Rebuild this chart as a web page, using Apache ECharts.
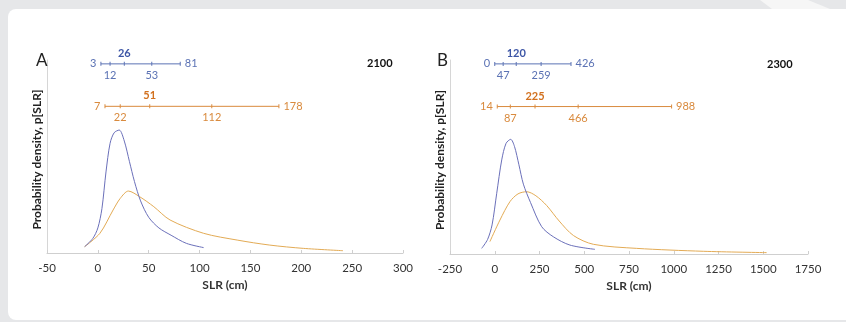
<!DOCTYPE html>
<html>
<head>
<meta charset="utf-8">
<script src="https://cdn.jsdelivr.net/npm/echarts@6/dist/echarts.min.js"></script>
<style>
  html, body { margin: 0; padding: 0; background: #e6e7e9; }
  #chart { width: 846px; height: 322px; }
</style>
</head>
<body>
<div id="chart"></div>
<script>
// density curves, panel A (2100)
const blueAX = [-13, -5, 0, 4, 8, 12, 16, 21, 26, 31, 36, 42, 50, 60, 72, 87, 104]
const blueAY = [3.3, 7.5, 13, 23, 42, 56.8, 62.3, 63.7, 58, 47.5, 37, 27, 18.5, 13, 9.2, 5, 2.8]
const orangeAX = [-13, 2, 15, 22, 30, 41, 55, 71, 104, 137, 169, 202, 241]
const orangeAY = [3.3, 10.2, 22.3, 28.3, 32.1, 29.2, 24, 17.1, 10.2, 6.7, 4.1, 2.4, 1.2]

// density curves, panel B (2300)
const blueBX = [-73, -40, -15, 11, 39, 63, 89, 110, 135, 160, 200, 262, 327, 420, 560]
const blueBY = [2.9, 7.5, 15, 31.3, 48.5, 57, 59.1, 55.5, 46, 36, 26.5, 14.1, 8.9, 4.6, 2.4]
const orangeBX = [-27, 29, 85, 130, 178, 230, 290, 360, 440, 551, 793, 1165, 1519]
const orangeBY = [6.4, 17.5, 27, 31, 32.1, 30, 25, 17, 9.5, 5, 2.9, 1.4, 0.7]

// whiskers: min, low, median, high, max
const blueRangeA = [3, 12, 26, 53, 81]
const orangeRangeA = [7, 22, 51, 112, 178]
const blueRangeB = [0, 47, 120, 259, 426]
const orangeRangeB = [14, 87, 225, 466, 988]

const BLUE = '#5b72b4'
const ORANGE = '#d98a3d'
const BLUE_CURVE = '#6b70ba'
const ORANGE_CURVE = '#e3ab55'
const FONT = 'Lato, "Open Sans", sans-serif'

const chart = echarts.init(document.getElementById('chart'))

function zip(xs, ys) {
  return xs.map((x, i) => [x, ys[i]])
}

function curve(xs, ys, color, idx) {
  return {
    type: 'line',
    xAxisIndex: idx,
    yAxisIndex: idx,
    data: zip(xs, ys),
    smooth: 0.3,
    symbol: 'none',
    lineStyle: { color, width: 1 },
    silent: true,
  }
}

const labelPos = ['left', 'bottom', 'top', 'bottom', 'right']

function whisker(vals, level, color, boldColor, idx) {
  return {
    type: 'line',
    xAxisIndex: idx,
    yAxisIndex: idx,
    symbol: 'rect',
    symbolSize: [1, 4],
    lineStyle: { color, width: 1 },
    itemStyle: { color },
    silent: true,
    data: vals.map((v, i) => ({
      value: [v, level],
      label: {
        show: true,
        position: labelPos[i],
        distance: i === 2 ? 3 : 4,
        formatter: String(v),
        fontFamily: FONT,
        fontSize: 11,
        fontWeight: i === 2 ? 'bold' : 'normal',
        color: i === 2 ? boldColor : color,
      },
    })),
  }
}

function xAxis(idx, min, max, interval) {
  return {
    type: 'value',
    gridIndex: idx,
    min,
    max,
    interval,
    name: 'SLR (cm)',
    nameLocation: 'middle',
    nameGap: 25,
    nameTextStyle: { fontFamily: FONT, fontSize: 12, fontWeight: 'bold', color: '#333' },
    axisLine: { onZero: false, lineStyle: { color: '#cfcfcf' } },
    axisTick: { show: true, inside: true, length: 3, lineStyle: { color: '#cfcfcf' } },
    axisLabel: { fontFamily: FONT, fontSize: 11.5, color: '#333', margin: 9, formatter: v => String(v) },
    splitLine: { show: false },
  }
}

function yAxis(idx) {
  return {
    type: 'value',
    gridIndex: idx,
    min: 0,
    max: 100,
    name: 'Probability density, p[SLR]',
    nameLocation: 'middle',
    nameGap: 4,
    nameTextStyle: { fontFamily: FONT, fontSize: 12, fontWeight: 'bold', color: '#222', padding: [0, 0, 0, -6] },
    axisLine: { show: true, onZero: false, lineStyle: { color: '#d6d6d6' } },
    axisTick: { show: false },
    axisLabel: { show: false },
    splitLine: { show: false },
  }
}

chart.setOption({
  animation: false,
  backgroundColor: '#e6e7e9',
  graphic: [
    {
      type: 'rect',
      shape: { x: 8, y: 9, width: 860, height: 311, r: 8 },
      style: { fill: '#ffffff' },
      z: -10,
    },
    {
      type: 'polygon',
      shape: { points: [[760, 0], [808, 0], [830, 9], [772, 9]] },
      style: { fill: '#f6f6f6' },
      z: -10,
    },
  ],
  title: [
    { text: 'A', left: 31, top: 47, textStyle: { fontFamily: FONT, fontSize: 17, fontWeight: 'normal', color: '#222' } },
    { text: 'B', left: 432, top: 47, textStyle: { fontFamily: FONT, fontSize: 17, fontWeight: 'normal', color: '#222' } },
    { text: '2100', left: 362, top: 53, textStyle: { fontFamily: FONT, fontSize: 11, fontWeight: 'bold', color: '#111' } },
    { text: '2300', left: 762, top: 54, textStyle: { fontFamily: FONT, fontSize: 11, fontWeight: 'bold', color: '#111' } },
  ],
  grid: [
    { left: 47, top: 60, width: 356, height: 193 },
    { left: 450, top: 60, width: 358, height: 194 },
  ],
  xAxis: [xAxis(0, -50, 300, 50), xAxis(1, -250, 1750, 250)],
  yAxis: [yAxis(0), yAxis(1)],
  series: [
    curve(orangeAX, orangeAY, ORANGE_CURVE, 0),
    curve(blueAX, blueAY, BLUE_CURVE, 0),
    curve(orangeBX, orangeBY, ORANGE_CURVE, 1),
    curve(blueBX, blueBY, BLUE_CURVE, 1),
    whisker(blueRangeA, 98, BLUE, '#3d56a6', 0),
    whisker(orangeRangeA, 76, ORANGE, '#d2711f', 0),
    whisker(blueRangeB, 98, BLUE, '#3d56a6', 1),
    whisker(orangeRangeB, 76, ORANGE, '#d2711f', 1),
  ],
})
</script>
</body>
</html>
